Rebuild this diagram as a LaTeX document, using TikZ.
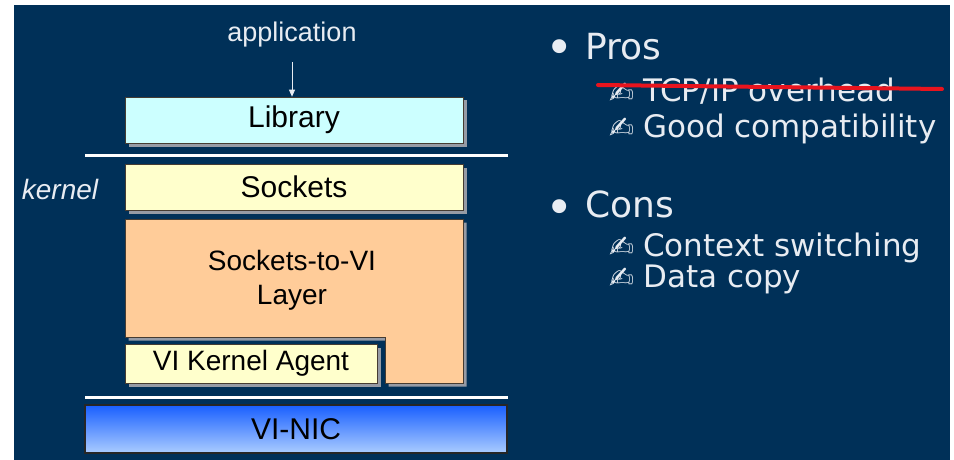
\documentclass[tikz,border=0pt]{standalone}
\usepackage{fontspec}
\setmainfont{Liberation Sans}
\newfontfamily\verdana{DejaVu Sans}
\usetikzlibrary{shadows,arrows.meta}

\definecolor{slate}{RGB}{0,48,88}
\definecolor{ink}{RGB}{232,236,242}
\definecolor{edge}{RGB}{70,60,50}
\definecolor{shade}{RGB}{150,155,165}
\definecolor{libfill}{RGB}{204,255,255}
\definecolor{sockfill}{RGB}{255,255,204}
\definecolor{peach}{RGB}{255,204,153}
\definecolor{nictop}{RGB}{25,95,255}
\definecolor{nicbottom}{RGB}{170,204,255}
\definecolor{strikered}{RGB}{232,20,30}

\begin{document}
\begin{tikzpicture}[x=1pt,y=-1pt,
  shadowed/.style={general shadow={fill=shade, shadow xshift=3.5pt, shadow yshift=-3.5pt}},
  layerbox/.style={shadowed, draw=edge, line width=0.7pt, inner sep=0pt,
    minimum width=338pt, minimum height=46pt, text=black,
    font=\fontsize{30}{34}\selectfont},
  divider/.style={draw=white, line width=3pt},
  label/.style={text=ink, font=\fontsize{27}{31}\selectfont, inner sep=0pt},
  bul/.style={text=ink, font=\verdana\fontsize{48}{52}\selectfont, anchor=base, inner sep=0pt},
  head/.style={text=ink, font=\verdana\fontsize{36}{40}\selectfont, anchor=base west, inner sep=0pt},
  hand/.style={text=ink, font=\verdana\fontsize{30}{34}\selectfont, anchor=base, inner sep=0pt},
  item/.style={text=ink, font=\verdana\fontsize{31}{35}\selectfont, anchor=base west, inner sep=0pt},
]
% canvas and slide background
\useasboundingbox (0,0) rectangle (954,460);
\fill[white] (0,0) rectangle (954,460);
\fill[slate] (14,5) rectangle (950,460);

% protocol stack
\node[label, anchor=base] (app) at (292,42) {application};
\node[layerbox, fill=libfill] (lib) at (294,120) {Library};
\draw[ink, line width=0.8pt, -{Triangle[length=7pt,width=6pt]}]
  ([yshift=-14pt]app.south) -- (lib.north -| app.south);

\coordinate (d1w) at (85,155);
\coordinate (d1e) at (508,155);
\draw[divider] (d1w) -- (d1e);

\node[label, anchor=base, font=\itshape\fontsize{28}{32}\selectfont] (kern) at (60,199) {kernel};
\node[layerbox, fill=sockfill] (sock) at (294,187) {Sockets};

% Sockets-to-VI layer wraps around the kernel agent
\draw[shadowed, draw=edge, line width=0.7pt, fill=peach]
  (125,219) -- (463,219) -- (463,383) -- (385,383) -- (385,337) -- (125,337) -- cycle;
\node[text=black, align=center, font=\fontsize{28}{34}\selectfont, inner sep=0pt] (s2vi) at (292,280)
  {Sockets-to-VI\\Layer};

\node[layerbox, fill=sockfill, minimum width=252pt, minimum height=39pt,
  font=\fontsize{28}{32}\selectfont] (agent) at (251,363.5) {VI Kernel Agent};

\coordinate (d2w) at (85,397);
\coordinate (d2e) at (508,397);
\draw[divider] (d2w) -- (d2e);

\node[draw=black!85, line width=1.2pt, top color=nictop, bottom color=nicbottom,
  minimum width=422pt, minimum height=48pt, inner sep=0pt, text=black,
  font=\fontsize{30}{34}\selectfont] (nic) at (296,429) {VI-NIC};

% pros and cons
\node[bul] (b1) at (560,65) {•};
\node[head] (pros) at (585,60) {Pros};
\node[hand] (h1) at (622,103) {✍};
\node[item] (t1) at (643,102) {TCP/IP overhead};
\node[hand] (h2) at (622,139) {✍};
\node[item] (t2) at (643,138) {Good compatibility};

\node[bul] (b2) at (560,224) {•};
\node[head] (cons) at (585,217) {Cons};
\node[hand] (h3) at (622,257) {✍};
\node[item] (t3) at (643,256) {Context switching};
\node[hand] (h4) at (622,288) {✍};
\node[item] (t4) at (643,287) {Data copy};

% strike-through over the first pro
\draw[strikered, line width=4pt, line cap=round] (598,85) -- (942,89);
\end{tikzpicture}
\end{document}
